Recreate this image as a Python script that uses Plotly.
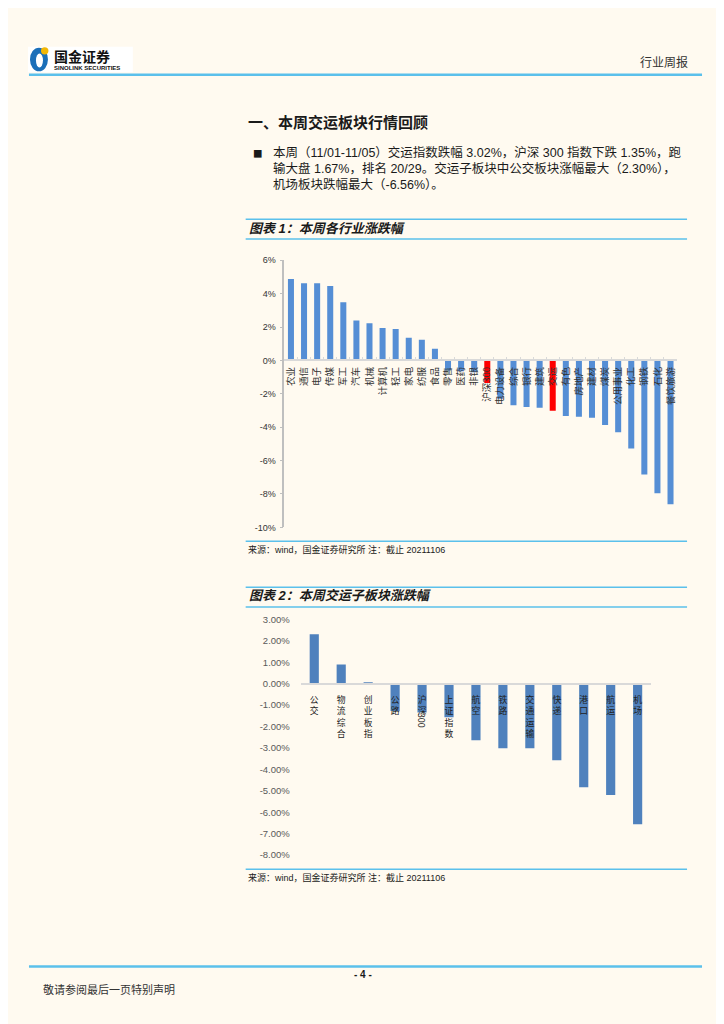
import plotly.graph_objects as go

# the page body adds an 8px margin, so the figure is shifted by OFF and shrunk to fit
OFF = 8
W, H = 724 - OFF, 1024 - OFF


def px(x):
    return (x - OFF) / W


def py(y):
    return 1 - (y - OFF) / H


BG = "#FFFAF0"
CJK = "Noto Sans CJK SC"
SANS = "Liberation Sans"
MIX = "Liberation Sans, Noto Sans CJK SC"
LINE_BLUE = "#5BC0EB"

# ---------------- data ----------------
cats1 = ["农业", "通信", "电子", "传媒", "军工", "汽车", "机械", "计算机", "轻工", "家电",
         "纺服", "食品", "零售", "医药", "非银", "沪深300", "电力设备", "综合", "银行", "建筑",
         "交运", "有色", "房地产", "建材", "煤炭", "公用事业", "化工", "钢铁", "石化", "餐饮旅游"]
vals1 = [4.88, 4.62, 4.62, 4.46, 3.48, 2.39, 2.23, 1.95, 1.89, 1.36,
         1.24, 0.70, -0.60, -0.65, -0.70, -1.35, -2.30, -2.69, -2.79, -2.83,
         -3.02, -3.33, -3.37, -3.43, -3.86, -4.30, -5.27, -6.83, -7.96, -8.61]
highlight1 = ["沪深300", "交运"]
yticks1 = [6, 4, 2, 0, -2, -4, -6, -8, -10]

cats2 = ["公交", "物流综合", "创业板指", "公路", "沪深300", "上证指数", "航空", "铁路",
         "交通运输", "快递", "港口", "航运", "机场"]
vals2 = [2.30, 0.89, 0.05, -1.28, -1.35, -1.57, -2.64, -3.02, -3.02, -3.58, -4.83, -5.20, -6.56]
yticks2 = [3, 2, 1, 0, -1, -2, -3, -4, -5, -6, -7, -8]

paragraph = [
    "本周（11/01-11/05）交运指数跌幅 3.02%，沪深 300 指数下跌 1.35%，跑",
    "输大盘 1.67%，排名 20/29。交运子板块中公交板块涨幅最大（2.30%），",
    "机场板块跌幅最大（-6.56%）。",
]
source = "来源：wind，国金证券研究所 注：截止 20211106"

# ---------------- helpers ----------------
colors1 = ["#FF0000" if c in highlight1 else "#558ED5" for c in cats1]


def split_label(s):
    cjk = "".join(ch for ch in s if ord(ch) > 255)
    latin = "".join(ch for ch in s if ord(ch) <= 255)
    return cjk, latin


def stacked(s):
    cjk, _ = split_label(s)
    return "<br>".join(cjk)


fig = go.Figure()

fig.add_trace(go.Bar(x=cats1, y=vals1, marker=dict(color=colors1, line=dict(width=0)),
                     width=0.46, xaxis="x", yaxis="y", showlegend=False, hoverinfo="x+y"))
fig.add_trace(go.Bar(x=cats2, y=vals2, marker=dict(color="#4F81BD", line=dict(width=0)),
                     width=0.34, xaxis="x2", yaxis="y2", showlegend=False, hoverinfo="x+y"))

zero1 = 358.25
zero2 = 685.0
first_char2 = 699.3   # centre of first stacked character under chart 2
fs2 = 8.8

layout = dict(
    width=W, height=H, autosize=False,
    margin=dict(l=0, r=0, t=0, b=0, pad=0),
    paper_bgcolor=BG, plot_bgcolor="rgba(0,0,0,0)",
    showlegend=False,
    xaxis=dict(domain=[px(283.8), px(677)], anchor="free", position=py(zero1),
               type="category", showgrid=False, zeroline=False,
               showline=True, linecolor="#D9D9D9", linewidth=1.5,
               ticks="inside", tickson="boundaries", ticklen=3, tickcolor="#D9D9D9",
               tickangle=-90, tickfont=dict(family=CJK, size=9.5, color="#333333"),
               ticklabelstandoff=2, fixedrange=True),
    yaxis=dict(domain=[py(527), py(257)], anchor="x", range=[-10, 6],
               showgrid=False, zeroline=False,
               showline=True, linecolor="#BFBFBF", linewidth=1.5,
               ticks="outside", ticklen=3, tickcolor="#BFBFBF",
               tickmode="array", tickvals=yticks1,
               ticktext=[f"{v}%" for v in yticks1],
               tickfont=dict(family=SANS, size=9, color="#333333"),
               ticklabelstandoff=2, fixedrange=True),
    xaxis2=dict(domain=[px(300.2), px(651)], anchor="free", position=py(zero2),
                type="category", showgrid=False, zeroline=False,
                showline=True, linecolor="#D9D9D9", linewidth=1.5,
                ticks="", tickmode="array", tickvals=cats2,
                ticktext=[stacked(c) for c in cats2],
                tickfont=dict(family=CJK, size=fs2, color="#222222"),
                ticklabelstandoff=8, fixedrange=True),
    yaxis2=dict(domain=[py(858.3), py(620)], anchor="x2", range=[-8, 3],
                showgrid=False, zeroline=False, showline=False, ticks="",
                tickmode="array", tickvals=yticks2,
                ticktext=[f"{v:.2f}%" for v in yticks2],
                tickfont=dict(family=SANS, size=9.5, color="#595959"),
                ticklabelstandoff=10, fixedrange=True),
)
fig.update_layout(**layout)

shapes = []
annotations = []


def hline(y, x0, x1, w, color=LINE_BLUE):
    shapes.append(dict(type="line", xref="paper", yref="paper",
                       x0=px(x0), x1=px(x1), y0=py(y), y1=py(y),
                       line=dict(color=color, width=w)))


def text(x, y, s, size, anchor="left", color="#1a1a1a", family=CJK, yanchor="middle", **kw):
    annotations.append(dict(xref="paper", yref="paper", x=px(x), y=py(y), text=s,
                            showarrow=False, xanchor=anchor, yanchor=yanchor,
                            font=dict(family=family, size=size, color=color), **kw))


# header / logo
shapes.append(dict(type="rect", xref="paper", yref="paper", x0=px(27), x1=px(132),
                   y0=py(67), y1=py(41), fillcolor="#FFFFFF", line=dict(width=0), layer="below"))
shapes.append(dict(type="circle", xref="paper", yref="paper", x0=px(29), x1=px(47),
                   y0=py(66), y1=py(42), fillcolor="#1B6FB8", line=dict(width=0)))
shapes.append(dict(type="circle", xref="paper", yref="paper", x0=px(35), x1=px(42),
                   y0=py(62), y1=py(48), fillcolor="#FFFFFF", line=dict(width=0)))
shapes.append(dict(type="circle", xref="paper", yref="paper", x0=px(40), x1=px(47.5),
                   y0=py(49), y1=py(41.5), fillcolor="#F2B705", line=dict(width=0)))
text(51, 50, "<b>国金证券</b>", 14, color="#111111")
text(51, 62.5, "<b>SINOLINK SECURITIES</b>", 6, color="#111111", family=SANS)
text(690, 56, "行业周报", 12, anchor="right", color="#333333")
hline(69.5, 28, 702, 2.5)

# section title and paragraph
text(245, 117, "<b>一、本周交运板块行情回顾</b>", 15)
text(250.5, 148.5, "■", 9.5)
for i, line in enumerate(paragraph):
    text(270, 148 + i * 16.3, line, 12.5, family=MIX)

# chart 1 frame
hline(215.5, 245, 687, 1.5)
text(246, 224.5, "<b><i>图表 1：本周各行业涨跌幅</i></b>", 13, family=MIX)
hline(235.5, 245, 687, 1.5)
hline(541, 245, 687, 1.5)
text(245, 549.5, source, 9, family=MIX)

# chart 2 frame
hline(587.5, 245, 687, 1.5)
text(246, 596, "<b><i>图表 2：本周交运子板块涨跌幅</i></b>", 13, family=MIX)
hline(607.5, 245, 687, 1.5)
hline(872.5, 245, 687, 1.5)
text(245, 880.5, source, 9, family=MIX)

# rotated latin runs in stacked labels of chart 2
lh = fs2 * 1.3
for c in cats2:
    cjk, latin = split_label(c)
    if latin:
        annotations.append(dict(xref="x2", yref="paper", x=c,
                                y=py(first_char2 + (len(cjk) - 0.5) * lh + len(latin) * fs2 * 0.2),
                                text=latin, showarrow=False, textangle=90,
                                xanchor="center", yanchor="middle",
                                font=dict(family=CJK, size=fs2, color="#222222")))

# footer
hline(971, 28, 702, 2.5)
text(362, 979.5, "<b>- 4 -</b>", 10, anchor="center", family=SANS)
text(40, 994, "敬请参阅最后一页特别声明", 11, color="#333333")

fig.update_layout(shapes=shapes, annotations=annotations)

fig.write_html("out.html")
